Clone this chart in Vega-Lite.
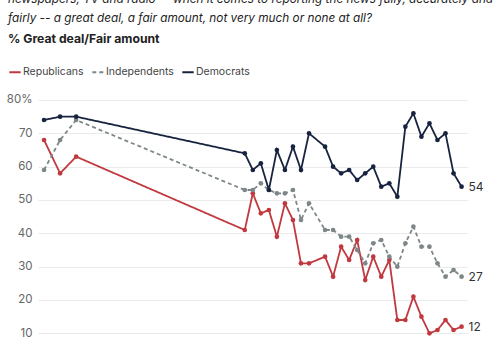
{
  "$schema": "https://vega.github.io/schema/vega-lite/v6.json",
  "width": 430,
  "height": 266.67,
  "autosize": "none",
  "padding": {"left": 38, "top": 100, "right": 32, "bottom": 0},
  "background": "white",
  "title": {
    "text": ["newspapers, TV and radio -- when it comes to reporting the news fully, accurately and", "fairly -- a great deal, a fair amount, not very much or none at all?"],
    "subtitle": "% Great deal/Fair amount",
    "anchor": "start",
    "frame": "group",
    "dx": -30,
    "offset": 20,
    "font": "Inter",
    "fontSize": 11.8,
    "fontStyle": "italic",
    "fontWeight": "normal",
    "lineHeight": 19,
    "color": "#222222",
    "subtitleFont": "Inter",
    "subtitleFontSize": 12.2,
    "subtitleFontWeight": "bold",
    "subtitleColor": "#222222",
    "subtitlePadding": 8
  },
  "config": {
    "view": {"stroke": null},
    "font": "Inter"
  },
  "data": {
    "values": [
      {"year": 1972, "party": "Republicans", "value": 68},
      {"year": 1974, "party": "Republicans", "value": 58},
      {"year": 1976, "party": "Republicans", "value": 63},
      {"year": 1997, "party": "Republicans", "value": 41},
      {"year": 1998, "party": "Republicans", "value": 52},
      {"year": 1999, "party": "Republicans", "value": 46},
      {"year": 2000, "party": "Republicans", "value": 47},
      {"year": 2001, "party": "Republicans", "value": 39},
      {"year": 2002, "party": "Republicans", "value": 49},
      {"year": 2003, "party": "Republicans", "value": 44},
      {"year": 2004, "party": "Republicans", "value": 31},
      {"year": 2005, "party": "Republicans", "value": 31},
      {"year": 2007, "party": "Republicans", "value": 33},
      {"year": 2008, "party": "Republicans", "value": 27},
      {"year": 2009, "party": "Republicans", "value": 36},
      {"year": 2010, "party": "Republicans", "value": 32},
      {"year": 2011, "party": "Republicans", "value": 38},
      {"year": 2012, "party": "Republicans", "value": 26},
      {"year": 2013, "party": "Republicans", "value": 33},
      {"year": 2014, "party": "Republicans", "value": 27},
      {"year": 2015, "party": "Republicans", "value": 32},
      {"year": 2016, "party": "Republicans", "value": 14},
      {"year": 2017, "party": "Republicans", "value": 14},
      {"year": 2018, "party": "Republicans", "value": 21},
      {"year": 2019, "party": "Republicans", "value": 15},
      {"year": 2020, "party": "Republicans", "value": 10},
      {"year": 2021, "party": "Republicans", "value": 11},
      {"year": 2022, "party": "Republicans", "value": 14},
      {"year": 2023, "party": "Republicans", "value": 11},
      {"year": 2024, "party": "Republicans", "value": 12},
      {"year": 1972, "party": "Independents", "value": 59},
      {"year": 1974, "party": "Independents", "value": 68},
      {"year": 1976, "party": "Independents", "value": 74},
      {"year": 1997, "party": "Independents", "value": 53},
      {"year": 1998, "party": "Independents", "value": 53},
      {"year": 1999, "party": "Independents", "value": 55},
      {"year": 2000, "party": "Independents", "value": 53},
      {"year": 2001, "party": "Independents", "value": 52},
      {"year": 2002, "party": "Independents", "value": 52},
      {"year": 2003, "party": "Independents", "value": 53},
      {"year": 2004, "party": "Independents", "value": 44},
      {"year": 2005, "party": "Independents", "value": 49},
      {"year": 2007, "party": "Independents", "value": 41},
      {"year": 2008, "party": "Independents", "value": 41},
      {"year": 2009, "party": "Independents", "value": 39},
      {"year": 2010, "party": "Independents", "value": 39},
      {"year": 2011, "party": "Independents", "value": 35},
      {"year": 2012, "party": "Independents", "value": 31},
      {"year": 2013, "party": "Independents", "value": 37},
      {"year": 2014, "party": "Independents", "value": 38},
      {"year": 2015, "party": "Independents", "value": 33},
      {"year": 2016, "party": "Independents", "value": 30},
      {"year": 2017, "party": "Independents", "value": 37},
      {"year": 2018, "party": "Independents", "value": 42},
      {"year": 2019, "party": "Independents", "value": 36},
      {"year": 2020, "party": "Independents", "value": 36},
      {"year": 2021, "party": "Independents", "value": 31},
      {"year": 2022, "party": "Independents", "value": 27},
      {"year": 2023, "party": "Independents", "value": 29},
      {"year": 2024, "party": "Independents", "value": 27},
      {"year": 1972, "party": "Democrats", "value": 74},
      {"year": 1974, "party": "Democrats", "value": 75},
      {"year": 1976, "party": "Democrats", "value": 75},
      {"year": 1997, "party": "Democrats", "value": 64},
      {"year": 1998, "party": "Democrats", "value": 59},
      {"year": 1999, "party": "Democrats", "value": 61},
      {"year": 2000, "party": "Democrats", "value": 53},
      {"year": 2001, "party": "Democrats", "value": 65},
      {"year": 2002, "party": "Democrats", "value": 59},
      {"year": 2003, "party": "Democrats", "value": 66},
      {"year": 2004, "party": "Democrats", "value": 59},
      {"year": 2005, "party": "Democrats", "value": 70},
      {"year": 2007, "party": "Democrats", "value": 66},
      {"year": 2008, "party": "Democrats", "value": 60},
      {"year": 2009, "party": "Democrats", "value": 58},
      {"year": 2010, "party": "Democrats", "value": 59},
      {"year": 2011, "party": "Democrats", "value": 56},
      {"year": 2012, "party": "Democrats", "value": 58},
      {"year": 2013, "party": "Democrats", "value": 60},
      {"year": 2014, "party": "Democrats", "value": 54},
      {"year": 2015, "party": "Democrats", "value": 55},
      {"year": 2016, "party": "Democrats", "value": 51},
      {"year": 2017, "party": "Democrats", "value": 72},
      {"year": 2018, "party": "Democrats", "value": 76},
      {"year": 2019, "party": "Democrats", "value": 69},
      {"year": 2020, "party": "Democrats", "value": 73},
      {"year": 2021, "party": "Democrats", "value": 68},
      {"year": 2022, "party": "Democrats", "value": 70},
      {"year": 2023, "party": "Democrats", "value": 58},
      {"year": 2024, "party": "Democrats", "value": 54}
    ]
  },
  "encoding": {
    "x": {
      "field": "year",
      "type": "quantitative",
      "scale": {"domain": [1971.25, 2024.8], "nice": false, "zero": false},
      "axis": null
    },
    "y": {
      "field": "value",
      "type": "quantitative",
      "scale": {"domain": [0, 80], "nice": false},
      "axis": {
        "title": null,
        "values": [0, 10, 20, 30, 40, 50, 60, 70, 80],
        "labelExpr": "datum.value == 80 ? '80%' : datum.label",
        "domain": false,
        "ticks": false,
        "labelPadding": 6,
        "labelFontSize": 11.5,
        "labelColor": "#666666",
        "labelFont": "Inter",
        "gridColor": "#ebebeb",
        "gridWidth": 1
      }
    }
  },
  "layer": [
    {
      "mark": {"type": "line", "strokeWidth": 1.8},
      "encoding": {
        "color": {
          "field": "party",
          "type": "nominal",
          "scale": {
            "domain": ["Republicans", "Independents", "Democrats"],
            "range": ["#c0393f", "#7d8788", "#17233f"]
          },
          "legend": {
            "title": null,
            "orient": "none",
            "legendX": -30,
            "legendY": -35,
            "direction": "horizontal",
            "symbolType": "stroke",
            "symbolSize": 130,
            "symbolStrokeWidth": 2,
            "labelFontSize": 10.5,
            "labelColor": "#444444",
            "labelFont": "Inter",
            "columnPadding": 4,
            "labelOffset": 1
          }
        },
        "strokeDash": {
          "field": "party",
          "type": "nominal",
          "scale": {
            "domain": ["Republicans", "Independents", "Democrats"],
            "range": [[1, 0], [4, 3], [1, 0]]
          },
          "legend": {
            "title": null,
            "orient": "none",
            "legendX": -30,
            "legendY": -35,
            "direction": "horizontal",
            "symbolType": "stroke",
            "symbolSize": 130,
            "symbolStrokeWidth": 2,
            "labelFontSize": 10.5,
            "labelColor": "#444444",
            "labelFont": "Inter",
            "columnPadding": 4,
            "labelOffset": 1
          }
        }
      }
    },
    {
      "mark": {"type": "point", "filled": true, "size": 22, "opacity": 1},
      "encoding": {
        "color": {
          "field": "party",
          "type": "nominal",
          "scale": {
            "domain": ["Republicans", "Independents", "Democrats"],
            "range": ["#c0393f", "#7d8788", "#17233f"]
          },
          "legend": null
        }
      }
    },
    {
      "transform": [{"filter": "datum.year == 2024"}],
      "mark": {"type": "text", "align": "left", "dx": 7, "fontSize": 12, "color": "#333333", "font": "Inter"},
      "encoding": {
        "text": {"field": "value", "type": "quantitative"}
      }
    }
  ]
}
